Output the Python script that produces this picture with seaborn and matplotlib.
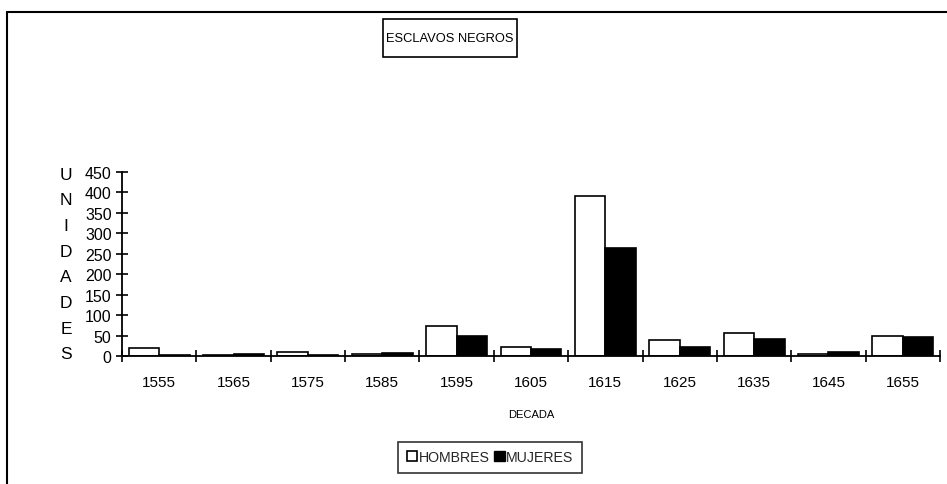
import numpy as np
import pandas as pd
import matplotlib
matplotlib.use('Agg')
import matplotlib.pyplot as plt
import seaborn as sns
from matplotlib.patches import Patch, Rectangle
from matplotlib.lines import Line2D

# datos
decadas = ['1555', '1565', '1575', '1585', '1595', '1605', '1615', '1625', '1635', '1645', '1655']
hombres = [20, 3, 9, 5, 73, 23, 392, 40, 56, 4, 50]
mujeres = [2, 4, 1.5, 8, 49, 16, 264, 22, 42, 9, 46]

sns.set_theme(style='white')
plt.rcParams['font.family'] = ['Liberation Sans', 'DejaVu Sans']

df = pd.DataFrame({
    'decada': decadas * 2,
    'unidades': hombres + mujeres,
    'sexo': ['HOMBRES'] * len(decadas) + ['MUJERES'] * len(decadas),
})

fig = plt.figure(figsize=(9.47, 4.85), dpi=100)
ax = fig.add_axes([122 / 947, 1 - 357 / 485, 818 / 947, 184 / 485])

sns.barplot(data=df, x='decada', y='unidades', hue='sexo',
            palette=['white', 'black'], edgecolor='black', linewidth=1.2,
            width=0.82, gap=0, ax=ax, legend=False)

ax.set_xlim(-0.5, len(decadas) - 0.5)
ax.set_ylim(0, 450)
ax.set_yticks(np.arange(0, 451, 50))
ax.set_xticks(np.arange(-0.5, len(decadas), 1), minor=True)

for s in ['top', 'right']:
    ax.spines[s].set_visible(False)
for s in ['left', 'bottom']:
    ax.spines[s].set_color('black')
    ax.spines[s].set_linewidth(1.3)

ax.tick_params(axis='x', which='major', length=0, pad=14, labelsize=11, colors='black')
ax.tick_params(axis='x', which='minor', direction='inout', length=9, width=1.2, color='black', bottom=True)
ax.tick_params(axis='y', direction='inout', length=9, width=1.2, color='black', left=True,
               pad=3, labelsize=11.5, labelcolor='black')

ax.set_xlabel('DECADA', fontsize=8, labelpad=14, color='black')
ax.set_ylabel('')

# etiqueta vertical letra por letra
for i, letra in enumerate('UNIDADES'):
    y = 175 + i * 25.7
    fig.text(66 / 947, 1 - y / 485, letra, ha='center', va='center', fontsize=12.5, color='black')

# titulo en recuadro
fig.add_artist(Rectangle((383 / 947, 1 - 58 / 485), 134 / 947, 38 / 485, transform=fig.transFigure,
                         fc='white', ec='black', lw=1.2))
fig.text(450 / 947, 1 - 39 / 485, 'ESCLAVOS NEGROS', ha='center', va='center', fontsize=9.3,
         color='black')

handles = [Patch(facecolor='white', edgecolor='black', linewidth=1.2, label='HOMBRES'),
           Patch(facecolor='black', edgecolor='black', label='MUJERES')]
leg = fig.legend(handles=handles, loc='center', bbox_to_anchor=(490 / 947, 1 - 458 / 485),
                 ncol=2, frameon=True, fancybox=False, fontsize=10.2, handlelength=0.75,
                 handleheight=0.75, handletextpad=0.1, columnspacing=0.3, borderpad=0.6,
                 borderaxespad=0)
leg.get_frame().set_edgecolor('black')
leg.get_frame().set_linewidth(1.2)

# marco exterior (solo lineas superior e izquierda visibles)
fig.add_artist(Line2D([7 / 947, 1], [1 - 13 / 485, 1 - 13 / 485], color='black', lw=1.5))
fig.add_artist(Line2D([7 / 947, 7 / 947], [0, 1 - 13 / 485], color='black', lw=1.5))

fig.savefig('out.png', dpi=100, facecolor='white')
